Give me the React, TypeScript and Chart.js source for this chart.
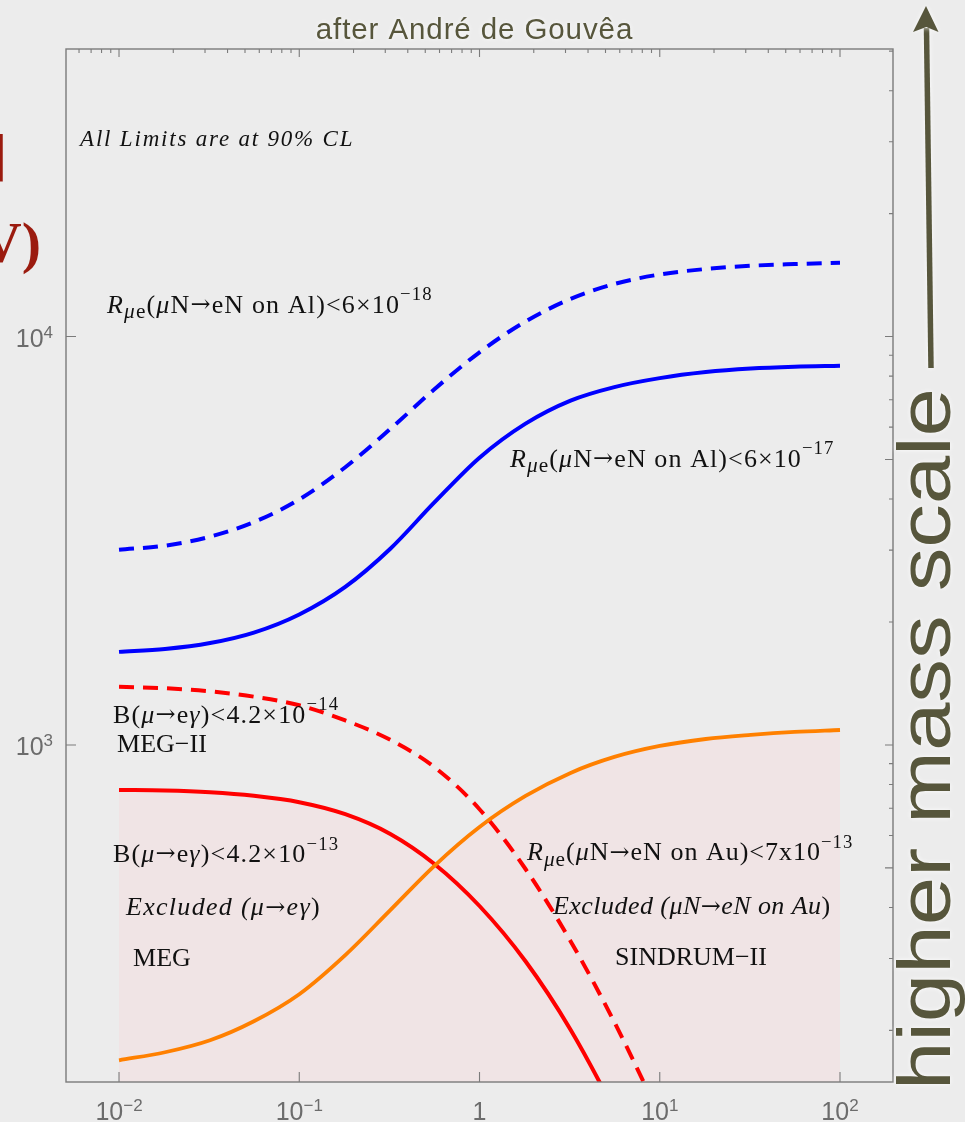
import React, { useEffect, useRef } from "react";
import { Chart, registerables } from "chart.js";

Chart.register(...registerables);

// ---------------- data ----------------
const massRatio = [0.01, 0.018, 0.032, 0.056, 0.1, 0.18, 0.32, 0.56, 1, 1.8, 3.2, 5.6, 10, 18, 32, 56, 100];
const alMu2e = [3006, 3076, 3236, 3512, 3993, 4786, 5940, 7419, 9152, 10889, 12364, 13453, 14191, 14637, 14905, 15049, 15168];
const alComet = [1690, 1717, 1776, 1884, 2087, 2438, 3023, 3919, 5051, 6120, 6969, 7521, 7911, 8185, 8348, 8433, 8480];
const auSindrum = [169, 176.8, 189.2, 210.6, 245.3, 305.8, 394.1, 505.1, 629.6, 749.9, 854.1, 934.6, 994.3, 1034, 1058, 1076, 1088];

const megIIRatio = [0.01, 0.018, 0.032, 0.056, 0.1, 0.18, 0.32, 0.56, 1, 1.8, 3.2, 5.6, 10];
const megII = [1387.6, 1376.5, 1352.6, 1312.8, 1250.8, 1148.2, 1029.1, 883.4, 696.0, 496.8, 330.8, 209.5, 123.7];

const megRatio = [0.01, 0.018, 0.032, 0.056, 0.1, 0.18, 0.32, 0.56, 1, 1.8, 3.2, 5.6, 10];
const meg = [775.8, 773.6, 765.9, 750.8, 724.2, 676.9, 605.5, 511.9, 403.3, 295.3, 200.8, 127.1, 74.2];

const xTickValues = [0.01, 0.1, 1, 10, 100];
const xTickBases = ["10", "10", "1", "10", "10"];
const xTickExponents = ["\u22122", "\u22121", "", "1", "2"];
const yTickValues = [1000, 10000];
const yTickBases = ["10", "10"];
const yTickExponents = ["3", "4"];
const yRightLongTicks = [500, 1000, 5000, 10000];

const xMin = 0.00508;
const xMax = 196.8;
const yMin = 149.5;
const yMax = 50600;

// ---------------- styles ----------------
const BG = "#ececec";
const PINK = "#f0e4e5";
const FRAME = "#7b7b7b";
const TICKTEXT = "#6c6c6c";
const OLIVE = "#57563c";
const SERIF = '"Liberation Serif", "Times New Roman", serif';
const SANS = '"Liberation Sans", Arial, sans-serif';
const ARROWFONT = '"DejaVu Serif", "Liberation Serif", serif';

type Seg = { t: string; it?: boolean; sub?: boolean; sup?: boolean; arrow?: boolean };

const ARROW: Seg = { t: "\u2192", arrow: true };

const rmu = (target: string, lead: string, exp: string): Seg[] => [
  { t: "R", it: true },
  { t: "\u03bc", it: true, sub: true },
  { t: "e", sub: true },
  { t: "(" },
  { t: "\u03bc", it: true },
  { t: "N" },
  ARROW,
  { t: "eN on " + target + ")<" + lead },
  { t: exp, sup: true },
];

const bmeg = (exp: string): Seg[] => [
  { t: "B(" },
  { t: "\u03bc", it: true },
  ARROW,
  { t: "e" },
  { t: "\u03b3", it: true },
  { t: ")<4.2\u00d710" },
  { t: exp, sup: true },
];

const annotations: { x: number; y: number; size: number; spacing?: number; segs: Seg[] }[] = [
  { x: 0.00608, y: 29220, size: 23, spacing: 1.8, segs: [{ t: "All Limits are at 90% CL", it: true }] },
  { x: 0.00858, y: 11450, size: 26, spacing: 1.15, segs: rmu("Al", "6\u00d710", "\u221218") },
  { x: 1.476, y: 4802, size: 26, spacing: 1.1, segs: rmu("Al", "6\u00d710", "\u221217") },
  { x: 0.00926, y: 1132, size: 26, spacing: 1.15, segs: bmeg("\u221214") },
  { x: 0.00975, y: 961, size: 26, segs: [{ t: "MEG\u2212II" }] },
  { x: 0.00926, y: 516.8, size: 26, spacing: 1.15, segs: bmeg("\u221213") },
  {
    x: 0.01093, y: 383, size: 26, spacing: 1.3,
    segs: [{ t: "Excluded (\u03bc", it: true }, ARROW, { t: "e\u03b3", it: true }, { t: ")" }],
  },
  { x: 0.01196, y: 287.3, size: 26, segs: [{ t: "MEG" }] },
  { x: 1.835, y: 522.6, size: 26, spacing: 1.0, segs: rmu("Au", "7x10", "\u221213") },
  {
    x: 2.557, y: 385.3, size: 26, spacing: 0.45,
    segs: [{ t: "Excluded (\u03bcN", it: true }, ARROW, { t: "eN on Au", it: true }, { t: ")" }],
  },
  { x: 5.648, y: 289, size: 26, segs: [{ t: "SINDRUM\u2212II" }] },
];

function drawRich(ctx: CanvasRenderingContext2D, segs: Seg[], x: number, y: number, size: number) {
  let cx = x;
  for (const s of segs) {
    const fs = s.sub ? size * 0.82 : s.sup ? size * 0.72 : s.arrow ? size * 0.92 : size;
    const fam = s.arrow ? ARROWFONT : SERIF;
    ctx.font = `${s.it ? "italic " : ""}${fs}px ${fam}`;
    const dy = s.sub ? size * 0.22 : s.sup ? -size * 0.48 : s.arrow ? -size * 0.02 : 0;
    ctx.fillText(s.t, cx, y + dy);
    cx += ctx.measureText(s.t).width;
  }
}

const decorPlugin = {
  id: "decor",
  afterDatasetsDraw(chart: any) {
    const { ctx, chartArea: a, scales } = chart;
    const xs = scales.x;
    const ys = scales.y;
    ctx.save();

    // frame
    ctx.strokeStyle = FRAME;
    ctx.lineWidth = 1.4;
    ctx.strokeRect(a.left, a.top, a.right - a.left, a.bottom - a.top);

    // ticks
    ctx.lineWidth = 1.1;
    ctx.beginPath();
    for (let k = -3; k <= 4; k++) {
      for (let m = 1; m <= 9; m++) {
        const v = m * Math.pow(10, k);
        if (v > xMin && v < xMax) {
          const px = xs.getPixelForValue(v);
          const len = m === 1 ? 8 : 4;
          ctx.moveTo(px, a.top);
          ctx.lineTo(px, a.top + len);
        }
        if (v > yMin && v < yMax) {
          const py = ys.getPixelForValue(v);
          const len = yRightLongTicks.includes(v) ? 8 : 4;
          ctx.moveTo(a.right, py);
          ctx.lineTo(a.right - len, py);
        }
      }
    }
    for (const v of xTickValues) {
      const px = xs.getPixelForValue(v);
      ctx.moveTo(px, a.bottom);
      ctx.lineTo(px, a.bottom - 10);
    }
    for (const v of yTickValues) {
      const py = ys.getPixelForValue(v);
      ctx.moveTo(a.left, py);
      ctx.lineTo(a.left + 10, py);
    }
    ctx.stroke();

    // tick labels
    ctx.fillStyle = TICKTEXT;
    ctx.textBaseline = "alphabetic";
    ctx.textAlign = "left";
    const baseFont = `25px ${SANS}`;
    const expFont = `17px ${SANS}`;
    xTickValues.forEach((v, i) => {
      const px = xs.getPixelForValue(v);
      ctx.font = baseFont;
      const wb = ctx.measureText(xTickBases[i]).width;
      ctx.font = expFont;
      const we = ctx.measureText(xTickExponents[i]).width;
      const x0 = px - (wb + we) / 2;
      const by = a.bottom + 38;
      ctx.font = baseFont;
      ctx.fillText(xTickBases[i], x0, by);
      ctx.font = expFont;
      ctx.fillText(xTickExponents[i], x0 + wb, by - 9);
    });
    yTickValues.forEach((v, i) => {
      const py = ys.getPixelForValue(v);
      ctx.font = baseFont;
      const wb = ctx.measureText(yTickBases[i]).width;
      ctx.font = expFont;
      const we = ctx.measureText(yTickExponents[i]).width;
      const x0 = a.left - 13 - wb - we;
      ctx.font = baseFont;
      ctx.fillText(yTickBases[i], x0, py + 10);
      ctx.font = expFont;
      ctx.fillText(yTickExponents[i], x0 + wb, py + 1);
    });

    // annotations
    ctx.fillStyle = "#111111";
    for (const an of annotations) {
      const px = xs.getPixelForValue(an.x);
      const py = ys.getPixelForValue(an.y);
      (ctx as any).letterSpacing = `${an.spacing || 0}px`;
      drawRich(ctx, an.segs, px, py, an.size);
    }
    (ctx as any).letterSpacing = "0px";

    // clipped axis title at the far left
    ctx.fillStyle = "#9b1b0f";
    ctx.font = `bold 58px ${SERIF}`;
    ctx.textAlign = "right";
    ctx.fillText("[\u039b]", 7, 174);
    ctx.fillText("(TeV)", 41, 262);

    // title and right-hand arrow label with a soft glow
    ctx.shadowColor = "rgba(255,255,255,0.9)";
    ctx.shadowBlur = 5;
    ctx.fillStyle = OLIVE;
    ctx.textAlign = "center";
    ctx.font = `29.5px ${SANS}`;
    (ctx as any).letterSpacing = "0.9px";
    ctx.fillText("after Andr\u00e9 de Gouv\u00eaa", (a.left + a.right) / 2 - 5, 39);
    (ctx as any).letterSpacing = "0px";

    ctx.save();
    ctx.translate(950, 1090);
    ctx.rotate(-Math.PI / 2);
    ctx.textAlign = "left";
    ctx.font = `74px ${SANS}`;
    const label = "higher mass scale";
    const nat = ctx.measureText(label).width;
    ctx.scale(702 / nat, 1);
    ctx.fillText(label, 0, 0);
    ctx.restore();

    // arrow
    ctx.strokeStyle = OLIVE;
    ctx.lineWidth = 5.5;
    ctx.beginPath();
    ctx.moveTo(931, 368);
    ctx.lineTo(926.5, 28);
    ctx.stroke();
    ctx.beginPath();
    ctx.moveTo(926, 6);
    ctx.lineTo(938.5, 32);
    ctx.lineTo(926.3, 27);
    ctx.lineTo(913, 32);
    ctx.closePath();
    ctx.fill();

    ctx.restore();
  },
};

function pts(xs: number[], ys: number[]) {
  return xs.map((x, i) => ({ x, y: ys[i] }));
}

export default function App() {
  const ref = useRef<HTMLCanvasElement>(null);
  useEffect(() => {
    document.body.style.margin = "0";
    document.body.style.background = BG;
    const line = {
      pointRadius: 0,
      borderWidth: 4,
      cubicInterpolationMode: "monotone" as const,
    };
    const chart = new Chart(ref.current!, {
      type: "line",
      data: {
        datasets: [
          { ...line, label: "SINDRUM-II Au", data: pts(massRatio, auSindrum), borderColor: "#ff8000", backgroundColor: PINK, fill: "start", borderWidth: 3.8 },
          { ...line, label: "MEG", data: pts(megRatio, meg), borderColor: "#ff0000", backgroundColor: PINK, fill: "start" },
          { ...line, label: "MEG-II", data: pts(megIIRatio, megII), borderColor: "#ff0000", borderDash: [15, 9], fill: false },
          { ...line, label: "Al 6e-17", data: pts(massRatio, alComet), borderColor: "#0000ff", fill: false },
          { ...line, label: "Al 6e-18", data: pts(massRatio, alMu2e), borderColor: "#0000ff", borderDash: [15, 9], fill: false },
        ],
      },
      options: {
        animation: false,
        responsive: false,
        maintainAspectRatio: false,
        devicePixelRatio: 1,
        layout: { padding: { left: 66, top: 49, right: 72, bottom: 40 } },
        scales: {
          x: { type: "logarithmic", min: xMin, max: xMax, display: false },
          y: { type: "logarithmic", min: yMin, max: yMax, display: false },
        },
        plugins: {
          legend: { display: false },
          tooltip: { enabled: false },
          filler: { drawTime: "beforeDatasetsDraw" },
        } as any,
      },
      plugins: [decorPlugin],
    });
    return () => chart.destroy();
  }, []);
  return (
    <div style={{ width: 965, height: 1122 }}>
      <canvas ref={ref} width={965} height={1122} style={{ display: "block", width: 965, height: 1122 }} />
    </div>
  );
}
